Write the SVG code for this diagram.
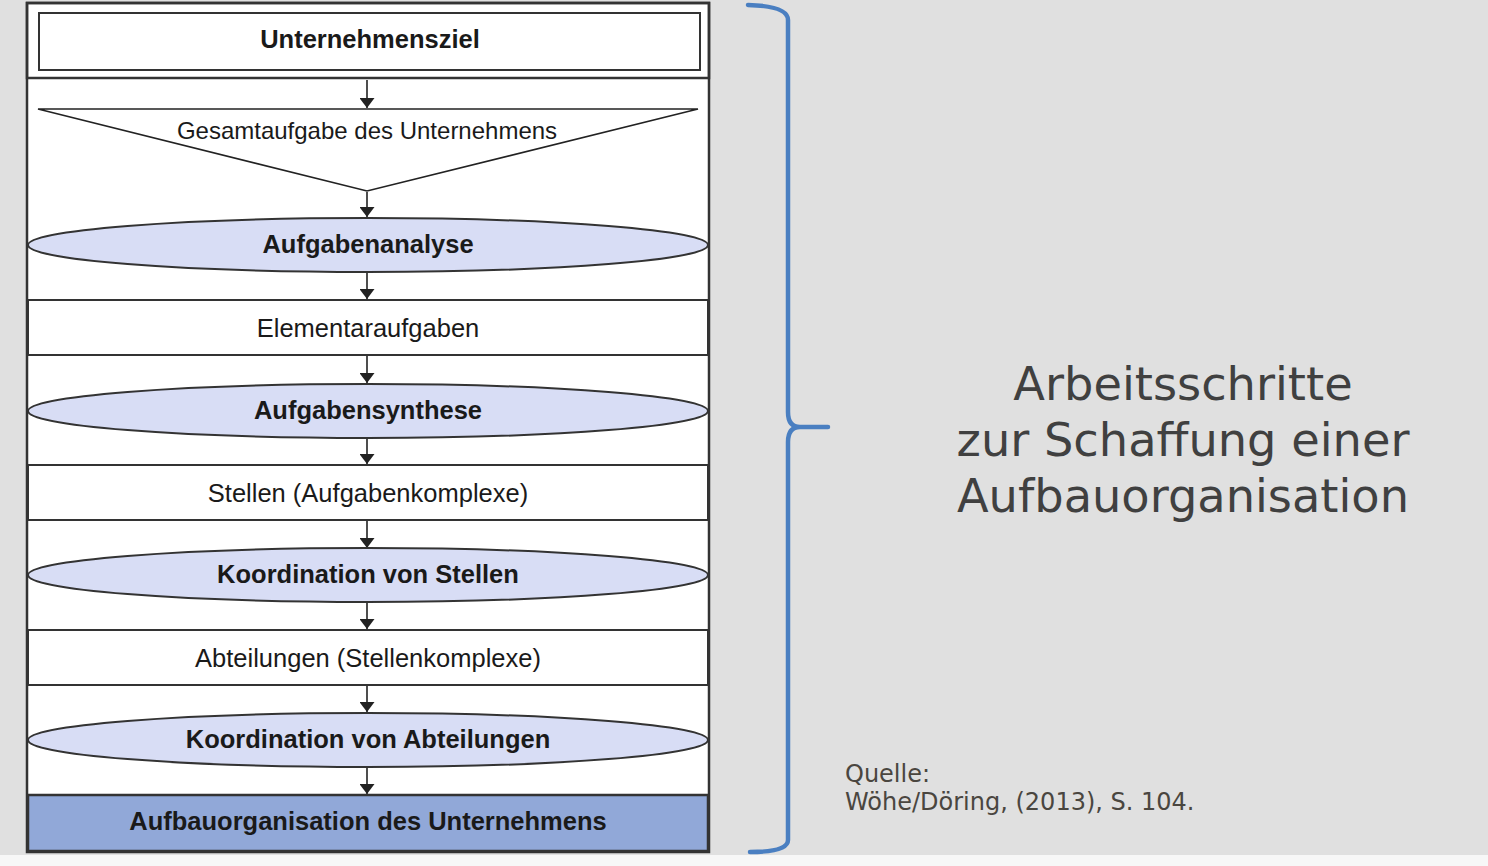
<svg xmlns="http://www.w3.org/2000/svg" width="1488" height="866" viewBox="0 0 1488 866">
<defs>
<style>
.frame{fill:#ffffff;stroke:#333;stroke-width:2.5}
.box{fill:#ffffff;stroke:#333;stroke-width:2}
.ell{fill:#d8ddf5;stroke:#333;stroke-width:2}
.fin{fill:#91a8d8;stroke:#333;stroke-width:2.5}
.t{font-family:"Liberation Sans",Arial,sans-serif;font-size:25.5px;fill:#1a1a1a;text-anchor:middle}
.b{font-weight:bold}
.con{stroke:#222;stroke-width:1.6;fill:none;marker-end:url(#ah)}
.big{font-family:"DejaVu Sans",Verdana,sans-serif;font-size:46.3px;fill:#404040;text-anchor:middle}
.src{font-family:"DejaVu Sans",Verdana,sans-serif;font-size:24px;fill:#4a463f}
</style>
<marker id="ah" viewBox="0 0 10 10" refX="10" refY="5" markerWidth="10" markerHeight="15" markerUnits="userSpaceOnUse" orient="auto" preserveAspectRatio="none">
<path d="M0,0 L10,5 L0,10 z" fill="#222"/>
</marker>
</defs>
<rect x="0" y="0" width="1488" height="866" fill="#e0e0e0"/>
<rect x="0" y="855" width="1488" height="11" fill="#f7f7f7"/>
<rect class="frame" x="27" y="3" width="682" height="849"/>
<g id="connectors">
<line class="con" x1="367" y1="80" x2="367" y2="108"/>
<line class="con" x1="367" y1="192" x2="367" y2="217"/>
<line class="con" x1="367" y1="272" x2="367" y2="299"/>
<line class="con" x1="367" y1="356" x2="367" y2="383"/>
<line class="con" x1="367" y1="438" x2="367" y2="464"/>
<line class="con" x1="367" y1="521" x2="367" y2="548"/>
<line class="con" x1="367" y1="602" x2="367" y2="629"/>
<line class="con" x1="367" y1="686" x2="367" y2="712"/>
<line class="con" x1="367" y1="767" x2="367" y2="794"/>
</g>
<g id="ziel">
<rect x="27" y="3" width="682" height="75" fill="none" stroke="#333" stroke-width="2.5"/>
<rect class="box" x="39" y="13" width="661" height="57"/>
<text class="t b" x="370" y="48">Unternehmensziel</text>
</g>
<g id="gesamtaufgabe">
<polygon points="38,109 698,109 367,191" fill="#fff" stroke="#222" stroke-width="1.6"/>
<text class="t" x="367" y="139" style="font-size:24px">Gesamtaufgabe des Unternehmens</text>
</g>
<g id="aufgabenanalyse">
<ellipse class="ell" cx="368" cy="245" rx="340" ry="27"/>
<text class="t b" x="368" y="253">Aufgabenanalyse</text>
</g>
<g id="elementaraufgaben">
<rect class="box" x="28" y="300" width="680" height="55"/>
<text class="t" x="368" y="337">Elementaraufgaben</text>
</g>
<g id="aufgabensynthese">
<ellipse class="ell" cx="368" cy="411" rx="340" ry="27"/>
<text class="t b" x="368" y="419">Aufgabensynthese</text>
</g>
<g id="stellen">
<rect class="box" x="28" y="465" width="680" height="55"/>
<text class="t" x="368" y="502">Stellen (Aufgabenkomplexe)</text>
</g>
<g id="koordStellen">
<ellipse class="ell" cx="368" cy="575" rx="340" ry="27"/>
<text class="t b" x="368" y="583">Koordination von Stellen</text>
</g>
<g id="abteilungen">
<rect class="box" x="28" y="630" width="680" height="55"/>
<text class="t" x="368" y="667">Abteilungen (Stellenkomplexe)</text>
</g>
<g id="koordAbteilungen">
<ellipse class="ell" cx="368" cy="740" rx="340" ry="27"/>
<text class="t b" x="368" y="748">Koordination von Abteilungen</text>
</g>
<g id="aufbauorganisation">
<rect class="fin" x="28" y="795" width="680" height="56"/>
<text class="t b" x="368" y="830">Aufbauorganisation des Unternehmens</text>
</g>
<g id="brace">
<path d="M748,5 Q788,6 788,20 L788,412 Q788,427 800,427 L828,427 M800,427 Q788,427 788,442 L788,840 Q788,852 750,852" fill="none" stroke="#4a7fc1" stroke-width="4.5" stroke-linecap="round" stroke-linejoin="round"/>
</g>
<g id="title">
<text class="big" x="1183" y="400">Arbeitsschritte</text>
<text class="big" x="1183" y="456">zur Schaffung einer</text>
<text class="big" x="1183" y="512">Aufbauorganisation</text>
</g>
<g id="source">
<text class="src" x="845" y="782">Quelle:</text>
<text class="src" x="845" y="810">Wöhe/Döring, (2013), S. 104.</text>
</g>
</svg>
